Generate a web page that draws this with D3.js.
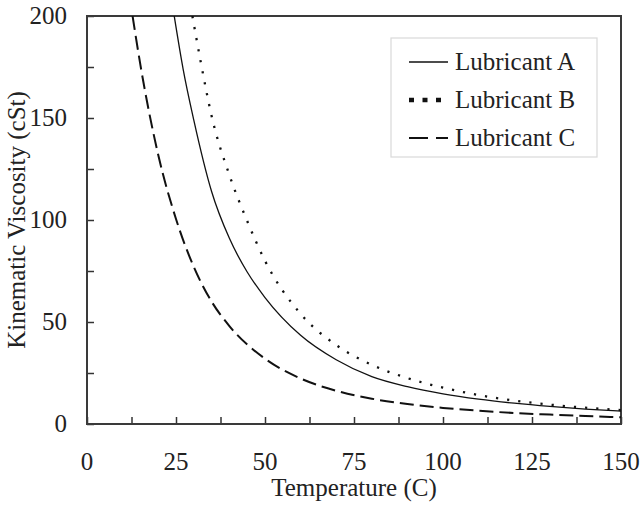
<!DOCTYPE html>
<html>
<head>
<meta charset="utf-8">
<script src="https://cdn.jsdelivr.net/npm/d3@7"></script>
<style>
  body { margin: 0; background: #fff; }
</style>
</head>
<body>
<div id="chart"></div>
<script>
// values (temperature in C, viscosity in cSt)
var tempA = [24.5, 27, 30, 35, 40, 45, 50, 60, 70, 80, 90, 100, 110, 120, 130, 140, 150];
var viscA = [200, 174, 149, 114, 91, 74.5, 62, 43.5, 31.5, 23.2, 18.3, 14.8, 12.2, 10.2, 8.6, 7.3, 6.3];

var tempB = [29.6, 32, 35, 40, 45, 50, 60, 70, 80, 90, 100, 110, 120, 130, 140, 150];
var viscB = [200, 177, 151, 122, 99.5, 80, 54, 38.7, 29, 22.5, 17.8, 14.2, 11.5, 9.5, 8, 6.8];

var tempC = [12.8, 15, 20, 25, 30, 35, 40, 50, 60, 70, 80, 90, 100, 110, 120, 130, 140, 150];
var viscC = [200, 176, 132, 100.5, 77, 60, 48, 32, 22.3, 16.3, 12.4, 9.8, 7.9, 6.5, 5.4, 4.6, 3.9, 3.3];

var seriesNames = ["Lubricant A", "Lubricant B", "Lubricant C"];
var xTicks = [0, 25, 50, 75, 100, 125, 150];
var yTicks = [0, 50, 100, 150, 200];

var width = 641, height = 508;
var fontSize = 25;

var series = [
  {name: seriesNames[0], pts: d3.zip(tempA, viscA), dash: null, w: 1.3, legendDash: null},
  {name: seriesNames[1], pts: d3.zip(tempB, viscB), dash: "2.2,9", w: 2.3, legendDash: "5,8.5"},
  {name: seriesNames[2], pts: d3.zip(tempC, viscC), dash: "14,6", w: 2, legendDash: "19,8"}
];

var svg = d3.select("#chart").append("svg")
    .attr("width", width)
    .attr("height", height)
    .style("font-family", "'Liberation Serif'");

var x = d3.scaleLinear().domain([0, 150]).range([87, 621]);
var y = d3.scaleLinear().domain([0, 200]).range([424, 16]);

svg.append("clipPath").attr("id", "plotclip")
  .append("rect")
    .attr("x", x(0)).attr("y", y(200))
    .attr("width", x(150) - x(0)).attr("height", y(0) - y(200));

// inward ticks, minor ticks unlabeled
var xAxis = d3.axisTop(x)
    .tickValues(d3.range(0, 151, 12.5))
    .tickSize(7)
    .tickFormat("");
var yAxis = d3.axisRight(y)
    .tickValues(d3.range(0, 201, 25))
    .tickSize(7)
    .tickFormat("");

svg.append("g").attr("transform", "translate(0," + y(0) + ")").call(xAxis);
svg.append("g").attr("transform", "translate(" + x(0) + ",0)").call(yAxis);
svg.selectAll(".domain").remove();
svg.selectAll(".tick line").attr("stroke", "#333").attr("stroke-width", 1.5);

// plot frame
svg.append("rect")
    .attr("x", x(0)).attr("y", y(200))
    .attr("width", x(150) - x(0)).attr("height", y(0) - y(200))
    .attr("fill", "none")
    .attr("stroke", "#3a3a3a")
    .attr("stroke-width", 2);

// tick labels
svg.selectAll(".xlab").data(xTicks).enter().append("text")
    .attr("x", d => x(d))
    .attr("y", 470)
    .attr("text-anchor", "middle")
    .style("font-family", "'Liberation Serif'")
    .attr("font-size", fontSize)
    .attr("fill", "#222")
    .text(d => d);

svg.selectAll(".ylab").data(yTicks).enter().append("text")
    .attr("x", 67)
    .attr("y", d => y(d) + 8)
    .attr("text-anchor", "end")
    .style("font-family", "'Liberation Serif'")
    .attr("font-size", fontSize)
    .attr("fill", "#222")
    .text(d => d);

// axis titles
svg.append("text")
    .attr("x", (x(0) + x(150)) / 2)
    .attr("y", 496)
    .attr("text-anchor", "middle")
    .style("font-family", "'Liberation Serif'")
    .attr("font-size", fontSize)
    .attr("fill", "#222")
    .text("Temperature (C)");

svg.append("text")
    .attr("transform", "translate(25," + ((y(0) + y(200)) / 2) + ") rotate(-90)")
    .attr("text-anchor", "middle")
    .style("font-family", "'Liberation Serif'")
    .attr("font-size", fontSize)
    .attr("fill", "#222")
    .text("Kinematic Viscosity (cSt)");

// curves
var line = d3.line()
    .x(d => x(d[0]))
    .y(d => y(d[1]))
    .curve(d3.curveMonotoneX);

svg.append("g").attr("clip-path", "url(#plotclip)")
  .selectAll("path")
  .data(series)
  .enter().append("path")
    .attr("d", d => line(d.pts))
    .attr("fill", "none")
    .attr("stroke", "#111")
    .attr("stroke-width", d => d.w)
    .attr("stroke-dasharray", d => d.dash);

// legend
var legend = svg.append("g");
legend.append("rect")
    .attr("x", 391).attr("y", 38)
    .attr("width", 206).attr("height", 119)
    .attr("fill", "#fff")
    .attr("stroke", "#d9d9d9")
    .attr("stroke-width", 1.2);

var item = legend.selectAll(".item")
    .data(series)
    .enter().append("g")
    .attr("transform", (d, i) => "translate(0," + (62 + i * 38) + ")");

item.append("line")
    .attr("x1", 409).attr("x2", (d, i) => i == 1 ? 441 : 448)
    .attr("y1", 0).attr("y2", 0)
    .attr("stroke", "#111")
    .attr("stroke-width", (d, i) => i == 1 ? 4.5 : (i == 0 ? 1.5 : 2))
    .attr("stroke-dasharray", d => d.legendDash);

item.append("text")
    .attr("x", 455)
    .attr("y", 8)
    .style("font-family", "'Liberation Serif'")
    .attr("font-size", fontSize)
    .attr("fill", "#222")
    .text(d => d.name);
</script>
</body>
</html>
